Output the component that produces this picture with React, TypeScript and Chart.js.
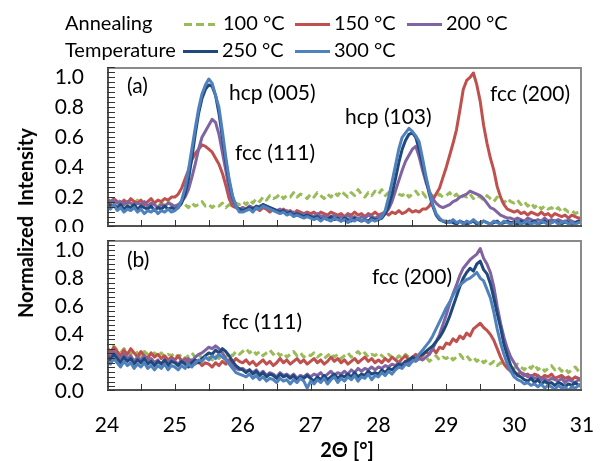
import React, { useEffect, useRef } from "react";
import { Chart, registerables } from "chart.js";

Chart.register(...registerables);

const FONT = "Lato, 'Open Sans', sans-serif";

// 2θ sampling grid [°]
const twoTheta = [
  24, 24.05, 24.1, 24.15, 24.2, 24.25, 24.3, 24.35, 24.4, 24.45, 24.5, 24.55, 24.6, 24.65, 24.7, 24.75, 24.8, 24.85, 24.9, 24.95,
  25, 25.05, 25.1, 25.15, 25.2, 25.25, 25.3, 25.35, 25.4, 25.45, 25.5, 25.55, 25.6, 25.65, 25.7, 25.75, 25.8, 25.85, 25.9, 25.95,
  26, 26.05, 26.1, 26.15, 26.2, 26.25, 26.3, 26.35, 26.4, 26.45, 26.5, 26.55, 26.6, 26.65, 26.7, 26.75, 26.8, 26.85, 26.9, 26.95,
  27, 27.05, 27.1, 27.15, 27.2, 27.25, 27.3, 27.35, 27.4, 27.45, 27.5, 27.55, 27.6, 27.65, 27.7, 27.75, 27.8, 27.85, 27.9, 27.95,
  28, 28.05, 28.1, 28.15, 28.2, 28.25, 28.3, 28.35, 28.4, 28.45, 28.5, 28.55, 28.6, 28.65, 28.7, 28.75, 28.8, 28.85, 28.9, 28.95,
  29, 29.05, 29.1, 29.15, 29.2, 29.25, 29.3, 29.35, 29.4, 29.45, 29.5, 29.55, 29.6, 29.65, 29.7, 29.75, 29.8, 29.85, 29.9, 29.95,
  30, 30.05, 30.1, 30.15, 30.2, 30.25, 30.3, 30.35, 30.4, 30.45, 30.5, 30.55, 30.6, 30.65, 30.7, 30.75, 30.8, 30.85, 30.9, 30.95,
  31,
];

// Panel (a)
const a100 = [
  0.18, 0.17, 0.19, 0.16, 0.18, 0.17, 0.15, 0.17, 0.16, 0.18, 0.15, 0.16, 0.17, 0.15, 0.16, 0.14, 0.16, 0.15, 0.17, 0.15,
  0.16, 0.14, 0.16, 0.15, 0.13, 0.16, 0.14, 0.15, 0.17, 0.14, 0.15, 0.13, 0.15, 0.14, 0.16, 0.13, 0.15, 0.14, 0.16, 0.15,
  0.17, 0.15, 0.18, 0.16, 0.19, 0.17, 0.2, 0.18, 0.21, 0.19, 0.2, 0.22, 0.19, 0.21, 0.2, 0.23, 0.2, 0.22, 0.21, 0.19,
  0.22, 0.2, 0.23, 0.21, 0.19, 0.22, 0.2, 0.23, 0.21, 0.24, 0.22, 0.2, 0.23, 0.21, 0.25, 0.22, 0.2, 0.23, 0.21, 0.24,
  0.22, 0.25, 0.21, 0.23, 0.2, 0.24, 0.22, 0.21, 0.23, 0.2, 0.22, 0.24, 0.21, 0.23, 0.2, 0.22, 0.21, 0.19, 0.22, 0.2,
  0.21, 0.23, 0.2, 0.22, 0.19, 0.21, 0.2, 0.22, 0.19, 0.21, 0.2, 0.18, 0.21, 0.19, 0.17, 0.2, 0.18, 0.16, 0.19, 0.17,
  0.16, 0.18, 0.15, 0.17, 0.14, 0.16, 0.13, 0.15, 0.12, 0.14, 0.12, 0.13, 0.11, 0.13, 0.1, 0.12, 0.1, 0.11, 0.09, 0.1,
  0.08,
];
const a150 = [
  0.18, 0.16, 0.19, 0.17, 0.15, 0.18, 0.16, 0.19, 0.17, 0.16, 0.18, 0.15, 0.17, 0.19, 0.16, 0.18, 0.17, 0.19, 0.18, 0.2,
  0.2, 0.22, 0.26, 0.32, 0.38, 0.45, 0.49, 0.52, 0.55, 0.54, 0.52, 0.5, 0.46, 0.42, 0.36, 0.28, 0.19, 0.14, 0.13, 0.12,
  0.13, 0.12, 0.14, 0.12, 0.13, 0.11, 0.13, 0.12, 0.1, 0.12, 0.11, 0.1, 0.12, 0.1, 0.11, 0.09, 0.11, 0.1, 0.09, 0.1,
  0.09, 0.1, 0.08, 0.1, 0.09, 0.08, 0.1, 0.09, 0.08, 0.09, 0.07, 0.09, 0.08, 0.1, 0.08, 0.09, 0.07, 0.09, 0.08, 0.1,
  0.08, 0.09, 0.1, 0.08, 0.1, 0.09, 0.11, 0.09, 0.1, 0.12, 0.1, 0.11, 0.1, 0.12, 0.12, 0.14, 0.18, 0.22, 0.26, 0.33,
  0.4, 0.48, 0.56, 0.65, 0.78, 0.92, 0.98, 1.0, 1.03, 0.95, 0.84, 0.68, 0.56, 0.46, 0.38, 0.27, 0.2, 0.15, 0.12, 0.11,
  0.1, 0.11, 0.09, 0.1, 0.08, 0.1, 0.09, 0.08, 0.1, 0.08, 0.09, 0.07, 0.09, 0.08, 0.07, 0.08, 0.06, 0.08, 0.07, 0.06,
  0.06,
];
const a200 = [
  0.19, 0.17, 0.18, 0.16, 0.17, 0.15, 0.17, 0.16, 0.14, 0.16, 0.15, 0.17, 0.14, 0.16, 0.15, 0.13, 0.15, 0.14, 0.16, 0.15,
  0.14, 0.15, 0.17, 0.2, 0.25, 0.33, 0.42, 0.52, 0.6, 0.64, 0.68, 0.72, 0.7, 0.62, 0.5, 0.38, 0.25, 0.17, 0.13, 0.12,
  0.13, 0.12, 0.14, 0.13, 0.12, 0.14, 0.15, 0.14, 0.13, 0.12, 0.11, 0.12, 0.1, 0.11, 0.09, 0.1, 0.09, 0.08, 0.09, 0.08,
  0.08, 0.07, 0.09, 0.07, 0.08, 0.06, 0.07, 0.08, 0.06, 0.07, 0.06, 0.08, 0.06, 0.07, 0.05, 0.07, 0.06, 0.08, 0.07, 0.06,
  0.07, 0.08, 0.09, 0.12, 0.17, 0.24, 0.31, 0.38, 0.44, 0.48, 0.52, 0.54, 0.47, 0.38, 0.3, 0.24, 0.19, 0.16, 0.14, 0.13,
  0.14, 0.15, 0.17, 0.18, 0.2, 0.21, 0.22, 0.24, 0.23, 0.22, 0.21, 0.19, 0.16, 0.13, 0.12, 0.1, 0.08, 0.07, 0.06, 0.06,
  0.05, 0.06, 0.05, 0.04, 0.06, 0.05, 0.04, 0.05, 0.04, 0.06, 0.04, 0.05, 0.04, 0.05, 0.04, 0.03, 0.05, 0.04, 0.03, 0.04,
  0.04,
];
const a250 = [
  0.16, 0.14, 0.15, 0.13, 0.15, 0.12, 0.14, 0.13, 0.15, 0.12, 0.14, 0.13, 0.12, 0.14, 0.11, 0.13, 0.12, 0.14, 0.12, 0.13,
  0.12, 0.13, 0.16, 0.22, 0.32, 0.46, 0.62, 0.76, 0.86, 0.92, 0.95, 0.94, 0.88, 0.76, 0.6, 0.44, 0.3, 0.2, 0.14, 0.12,
  0.11, 0.12, 0.13, 0.12, 0.14, 0.13, 0.15, 0.14, 0.13, 0.12, 0.11, 0.1, 0.11, 0.09, 0.1, 0.08, 0.09, 0.08, 0.07, 0.08,
  0.07, 0.06, 0.07, 0.05, 0.06, 0.05, 0.07, 0.05, 0.06, 0.04, 0.06, 0.05, 0.04, 0.06, 0.05, 0.04, 0.05, 0.04, 0.06, 0.05,
  0.05, 0.06, 0.09, 0.14, 0.22, 0.32, 0.43, 0.52, 0.58, 0.62, 0.63, 0.6, 0.52, 0.42, 0.32, 0.22, 0.14, 0.08, 0.05, 0.04,
  0.03, 0.04, 0.03, 0.02, 0.04, 0.03, 0.02, 0.03, 0.04, 0.02, 0.03, 0.04, 0.03, 0.02, 0.03, 0.04, 0.02, 0.03, 0.04, 0.03,
  0.03, 0.02, 0.04, 0.03, 0.02, 0.03, 0.04, 0.02, 0.03, 0.04, 0.02, 0.03, 0.04, 0.03, 0.02, 0.04, 0.03, 0.02, 0.03, 0.04,
  0.03,
];
const a300 = [
  0.14, 0.12, 0.15, 0.11, 0.13, 0.1, 0.12, 0.11, 0.13, 0.1, 0.12, 0.09, 0.11, 0.1, 0.12, 0.09, 0.11, 0.1, 0.12, 0.1,
  0.11, 0.13, 0.18, 0.26, 0.38, 0.52, 0.66, 0.79, 0.89, 0.95, 0.99, 0.96, 0.88, 0.8, 0.64, 0.47, 0.32, 0.21, 0.14, 0.1,
  0.1, 0.11, 0.12, 0.1, 0.13, 0.12, 0.14, 0.13, 0.12, 0.11, 0.1, 0.09, 0.1, 0.08, 0.09, 0.07, 0.08, 0.07, 0.06, 0.07,
  0.06, 0.05, 0.06, 0.04, 0.06, 0.05, 0.04, 0.06, 0.05, 0.04, 0.05, 0.03, 0.05, 0.04, 0.06, 0.04, 0.05, 0.03, 0.05, 0.04,
  0.05, 0.07, 0.11, 0.2, 0.3, 0.41, 0.52, 0.6, 0.63, 0.66, 0.64, 0.61, 0.57, 0.46, 0.34, 0.24, 0.15, 0.09, 0.06, 0.04,
  0.04, 0.03, 0.05, 0.03, 0.04, 0.02, 0.04, 0.03, 0.05, 0.03, 0.02, 0.04, 0.03, 0.02, 0.04, 0.03, 0.02, 0.04, 0.03, 0.02,
  0.03, 0.04, 0.02, 0.03, 0.04, 0.02, 0.03, 0.02, 0.04, 0.03, 0.02, 0.03, 0.04, 0.02, 0.03, 0.04, 0.02, 0.03, 0.02, 0.03,
  0.03,
];

// Panel (b)
const b100 = [
  0.31, 0.28, 0.32, 0.29, 0.27, 0.3, 0.28, 0.26, 0.29, 0.27, 0.25, 0.28, 0.26, 0.24, 0.27, 0.25, 0.27, 0.24, 0.26, 0.25,
  0.27, 0.24, 0.26, 0.23, 0.25, 0.27, 0.24, 0.26, 0.23, 0.25, 0.24, 0.22, 0.25, 0.23, 0.26, 0.24, 0.27, 0.25, 0.28, 0.26,
  0.28, 0.3, 0.27, 0.29, 0.26, 0.28, 0.25, 0.27, 0.29, 0.26, 0.28, 0.25, 0.27, 0.24, 0.26, 0.28, 0.25, 0.27, 0.24, 0.26,
  0.25, 0.27, 0.24, 0.26, 0.23, 0.25, 0.27, 0.24, 0.26, 0.23, 0.25, 0.27, 0.24, 0.26, 0.28, 0.25, 0.27, 0.24, 0.26, 0.25,
  0.27, 0.25, 0.23, 0.26, 0.24, 0.22, 0.25, 0.23, 0.26, 0.24, 0.21, 0.23, 0.25, 0.22, 0.24, 0.21, 0.23, 0.25, 0.22, 0.24,
  0.23, 0.25, 0.22, 0.24, 0.26, 0.23, 0.25, 0.22, 0.24, 0.21, 0.23, 0.2, 0.22, 0.19, 0.21, 0.18, 0.2, 0.17, 0.19, 0.18,
  0.16, 0.19, 0.17, 0.15, 0.18, 0.16, 0.19, 0.15, 0.17, 0.14, 0.16, 0.18, 0.15, 0.17, 0.14, 0.16, 0.13, 0.15, 0.17, 0.14,
  0.15,
];
const b150 = [
  0.3, 0.27, 0.31, 0.28, 0.25, 0.29, 0.26, 0.3, 0.27, 0.24, 0.28, 0.25, 0.23, 0.27, 0.24, 0.26, 0.23, 0.25, 0.22, 0.24,
  0.22, 0.25, 0.21, 0.23, 0.2, 0.22, 0.19, 0.21, 0.18, 0.2, 0.19, 0.17, 0.2, 0.18, 0.21, 0.19, 0.22, 0.2, 0.23, 0.21,
  0.2, 0.22, 0.19, 0.21, 0.18, 0.2, 0.22, 0.19, 0.21, 0.18, 0.2, 0.23, 0.2, 0.22, 0.19, 0.21, 0.23, 0.2, 0.22, 0.19,
  0.21, 0.23, 0.2, 0.22, 0.19, 0.21, 0.24, 0.21, 0.23, 0.2, 0.22, 0.19, 0.21, 0.23, 0.2, 0.22, 0.24, 0.21, 0.23, 0.2,
  0.22, 0.2, 0.23, 0.21, 0.24, 0.22, 0.2, 0.23, 0.25, 0.22, 0.24, 0.26, 0.23, 0.25, 0.28, 0.26, 0.3, 0.27, 0.31, 0.3,
  0.34, 0.33, 0.37, 0.35, 0.39, 0.37, 0.41, 0.39, 0.44, 0.46, 0.48, 0.45, 0.43, 0.4, 0.36, 0.3, 0.24, 0.19, 0.16, 0.14,
  0.13, 0.12, 0.13, 0.11, 0.12, 0.1, 0.12, 0.11, 0.09, 0.11, 0.1, 0.12, 0.09, 0.1, 0.11, 0.09, 0.1, 0.08, 0.1, 0.09,
  0.08,
];
const b200 = [
  0.27, 0.24, 0.28, 0.25, 0.22, 0.26, 0.23, 0.25, 0.21, 0.24, 0.22, 0.25, 0.21, 0.23, 0.2, 0.22, 0.19, 0.22, 0.2, 0.23,
  0.21, 0.19, 0.22, 0.2, 0.23, 0.21, 0.24, 0.26, 0.27, 0.29, 0.31, 0.3, 0.32, 0.3, 0.27, 0.23, 0.2, 0.18, 0.16, 0.15,
  0.16, 0.14, 0.15, 0.13, 0.15, 0.12, 0.14, 0.11, 0.13, 0.12, 0.1, 0.13, 0.11, 0.12, 0.1, 0.12, 0.09, 0.11, 0.1, 0.12,
  0.1, 0.12, 0.11, 0.13, 0.1, 0.12, 0.14, 0.11, 0.13, 0.12, 0.14, 0.12, 0.15, 0.13, 0.16, 0.14, 0.16, 0.15, 0.17, 0.15,
  0.17, 0.16, 0.18, 0.17, 0.19, 0.18, 0.2, 0.19, 0.21, 0.2, 0.22, 0.21, 0.23, 0.22, 0.24, 0.26, 0.3, 0.35, 0.4, 0.47,
  0.54, 0.62, 0.69, 0.75, 0.82, 0.87, 0.9, 0.93, 0.95, 0.97, 1.01, 0.94, 0.9, 0.84, 0.74, 0.6, 0.48, 0.38, 0.3, 0.24,
  0.2, 0.16, 0.13, 0.12, 0.1, 0.11, 0.09, 0.1, 0.08, 0.09, 0.07, 0.09, 0.08, 0.07, 0.09, 0.06, 0.08, 0.07, 0.06, 0.08,
  0.07,
];
const b250 = [
  0.25, 0.22, 0.26, 0.23, 0.2, 0.24, 0.21, 0.23, 0.19, 0.22, 0.2, 0.23, 0.19, 0.21, 0.18, 0.21, 0.19, 0.22, 0.18, 0.21,
  0.2, 0.18, 0.21, 0.19, 0.17, 0.2, 0.22, 0.2, 0.23, 0.25, 0.27, 0.26, 0.29, 0.27, 0.3, 0.28, 0.25, 0.21, 0.18, 0.16,
  0.15, 0.13, 0.15, 0.12, 0.14, 0.11, 0.13, 0.1, 0.12, 0.11, 0.09, 0.12, 0.1, 0.11, 0.09, 0.11, 0.08, 0.1, 0.09, 0.11,
  0.09, 0.07, 0.1, 0.08, 0.11, 0.08, 0.1, 0.12, 0.09, 0.11, 0.1, 0.12, 0.1, 0.13, 0.1, 0.12, 0.11, 0.14, 0.12, 0.13,
  0.12, 0.15, 0.13, 0.16, 0.15, 0.17, 0.19, 0.18, 0.21, 0.22, 0.24, 0.23, 0.25, 0.26, 0.28, 0.3, 0.32, 0.35, 0.38, 0.42,
  0.47, 0.53, 0.6, 0.67, 0.74, 0.8, 0.84, 0.87, 0.85, 0.9, 0.92, 0.86, 0.83, 0.76, 0.66, 0.55, 0.45, 0.33, 0.25, 0.18,
  0.14, 0.11, 0.1, 0.08, 0.07, 0.09, 0.06, 0.08, 0.05, 0.07, 0.05, 0.06, 0.04, 0.06, 0.05, 0.03, 0.05, 0.04, 0.06, 0.04,
  0.05,
];
const b300 = [
  0.22, 0.19, 0.23, 0.2, 0.17, 0.21, 0.18, 0.2, 0.16, 0.19, 0.17, 0.2, 0.16, 0.18, 0.15, 0.18, 0.16, 0.19, 0.15, 0.18,
  0.17, 0.15, 0.18, 0.16, 0.19, 0.17, 0.2, 0.22, 0.21, 0.24, 0.22, 0.25, 0.23, 0.26, 0.24, 0.22, 0.19, 0.16, 0.13, 0.12,
  0.11, 0.1, 0.12, 0.09, 0.11, 0.08, 0.1, 0.07, 0.09, 0.08, 0.06, 0.09, 0.07, 0.08, 0.05, 0.08, 0.06, 0.09, 0.07, 0.02,
  0.07, 0.05, 0.08, 0.06, 0.09, 0.05, 0.08, 0.1, 0.06, 0.09, 0.07, 0.1, 0.08, 0.11, 0.07, 0.1, 0.09, 0.12, 0.08, 0.11,
  0.1, 0.13, 0.11, 0.14, 0.12, 0.15, 0.17, 0.16, 0.19, 0.18, 0.21, 0.22, 0.26, 0.29, 0.32, 0.35, 0.39, 0.44, 0.49, 0.54,
  0.59, 0.63, 0.68, 0.72, 0.75, 0.77, 0.79, 0.8, 0.82, 0.84, 0.8, 0.78, 0.72, 0.66, 0.56, 0.44, 0.34, 0.26, 0.19, 0.14,
  0.1, 0.08, 0.07, 0.05, 0.06, 0.04, 0.05, 0.03, 0.05, 0.02, 0.04, 0.03, 0.01, 0.04, 0.02, 0.03, 0.0, 0.03, 0.02, 0.04,
  0.03,
];

const tempLabels = ["100 °C", "150 °C", "200 °C", "250 °C", "300 °C"];
const seriesColors = ["#9BBB59", "#C0504D", "#8064A2", "#1F497D", "#4F81BD"];
const yTicks = [0, 0.2, 0.4, 0.6, 0.8, 1.0];
const xTicks = [24, 25, 26, 27, 28, 29, 30, 31];
const X_MIN = 24;
const X_MAX = 31;
const Y_MAX = 1.07;
const Y_MINOR = 1 / 30;
const X_MINOR = 0.5;

// page-pixel plot boxes of the two panels (must match layout padding below)
const PLOT_LEFT = 107;
const PLOT_RIGHT = 582;
const panelBoxes = [
  { top: 67, bottom: 227 },
  { top: 240, bottom: 391 },
];

// text placement (canvas pixels)
const annA = [
  { text: "(a)", x: 127, y: 86 },
  { text: "hcp (005)", x: 229, y: 93 },
  { text: "fcc (111)", x: 235, y: 153 },
  { text: "hcp (103)", x: 345, y: 117 },
  { text: "fcc (200)", x: 490, y: 94 },
];
const annB = [
  { text: "(b)", x: 127, y: 28 },
  { text: "fcc (111)", x: 222, y: 90 },
  { text: "fcc (200)", x: 372, y: 45 },
];
const legendTitle = [
  { text: "Annealing", x: 65, y: 24 },
  { text: "Temperature", x: 65, y: 51 },
];
const legendItems = [
  { x0: 184, x1: 215, tx: 223, y: 24 },
  { x0: 295, x1: 330, tx: 334, y: 24 },
  { x0: 407, x1: 442, tx: 446, y: 24 },
  { x0: 183, x1: 218, tx: 222, y: 51 },
  { x0: 295, x1: 330, tx: 334, y: 51 },
];

function panelPlugin(items: { text: string; x: number; y: number }[], withLegend: boolean) {
  return {
    id: "panelDecor",
    afterDraw(chart: any) {
      const ctx = chart.ctx;
      ctx.save();
      ctx.fillStyle = "#000";
      ctx.textBaseline = "middle";
      ctx.textAlign = "left";
      ctx.font = `21px ${FONT}`;
      items.forEach((t) => ctx.fillText(t.text, t.x, t.y));
      if (withLegend) {
        ctx.font = `20px ${FONT}`;
        legendTitle.forEach((t) => ctx.fillText(t.text, t.x, t.y));
        legendItems.forEach((it, i) => {
          ctx.save();
          ctx.strokeStyle = seriesColors[i];
          ctx.lineWidth = 3;
          ctx.setLineDash(i === 0 ? [8, 4] : []);
          ctx.beginPath();
          ctx.moveTo(it.x0, it.y + 0.5);
          ctx.lineTo(it.x1, it.y + 0.5);
          ctx.stroke();
          ctx.restore();
          ctx.fillText(tempLabels[i], it.tx, it.y);
        });
      }
      ctx.restore();
    },
  };
}

function makeConfig(panel: "a" | "b"): any {
  const isA = panel === "a";
  const series = isA ? [a100, a150, a200, a250, a300] : [b100, b150, b200, b250, b300];
  return {
    type: "line",
    data: {
      datasets: series.map((ys, i) => ({
        label: tempLabels[i],
        data: twoTheta.map((x, j) => ({ x, y: ys[j] })),
        borderColor: seriesColors[i],
        backgroundColor: seriesColors[i],
        borderWidth: 3,
        borderDash: i === 0 ? [7, 4] : [],
        borderJoinStyle: "round",
        pointRadius: 0,
        tension: 0,
        fill: false,
        order: 4 - i,
      })),
    },
    options: {
      animation: false,
      responsive: true,
      maintainAspectRatio: false,
      events: [],
      layout: {
        padding: isA
          ? { top: 67, right: 20, bottom: 5, left: 0 }
          : { top: 8, right: 20, bottom: 0, left: 0 },
      },
      plugins: { legend: { display: false }, tooltip: { enabled: false } },
      scales: {
        x: {
          type: "linear",
          display: !isA,
          min: X_MIN,
          max: X_MAX,
          afterBuildTicks: (s: any) => {
            s.ticks = xTicks.map((v) => ({ value: v }));
          },
          ticks: {
            font: { family: FONT, size: 21 },
            color: "#000",
            padding: 22,
            maxRotation: 0,
            autoSkip: false,
            callback: (v: any) => String(v),
          },
          grid: { display: false, drawTicks: false },
          border: { display: false },
          afterFit: (s: any) => {
            s.height = isA ? 0 : 70;
            s.paddingLeft = 0;
            s.paddingRight = 0;
          },
        },
        y: {
          type: "linear",
          min: 0,
          max: Y_MAX,
          afterBuildTicks: (s: any) => {
            s.ticks = yTicks.map((v) => ({ value: v }));
          },
          ticks: {
            font: { family: FONT, size: 21 },
            color: "#000",
            padding: 23,
            callback: (v: any) => Number(v).toFixed(1),
          },
          grid: { display: false, drawTicks: false },
          border: { display: false },
          afterFit: (s: any) => {
            s.width = 107;
            s.paddingTop = 0;
            s.paddingBottom = 0;
          },
        },
      },
    },
    plugins: [panelPlugin(isA ? annA : annB, isA)],
  };
}

function PanelFrame({ top, bottom }: { top: number; bottom: number }) {
  const w = PLOT_RIGHT - PLOT_LEFT;
  const h = bottom - top;
  const marks: React.ReactNode[] = [];
  const box = (key: string, left: number, t: number, width: number, height: number, color: string) =>
    marks.push(
      <div key={key} style={{ position: "absolute", left, top: t, width, height, background: color, zIndex: 5 }} />
    );
  box("top", PLOT_LEFT, top, w, 2, "#8a8a8a");
  box("right", PLOT_RIGHT - 2, top, 2, h, "#8a8a8a");
  box("left", PLOT_LEFT, top, 2, h, "#505050");
  box("bottom", PLOT_LEFT, bottom - 2, w, 2, "#505050");
  for (let k = 0; k * Y_MINOR <= Y_MAX; k++) {
    const y = Math.round(bottom - ((k * Y_MINOR) / Y_MAX) * h);
    box("yt" + k, PLOT_LEFT, Math.min(y, bottom - 1), 8, 1, "#333");
  }
  for (let k = 1; X_MIN + k * X_MINOR < X_MAX; k++) {
    const x = Math.round(PLOT_LEFT + ((k * X_MINOR) / (X_MAX - X_MIN)) * w);
    box("xt" + k, x, bottom - 7, 1, 7, "#333");
  }
  return <>{marks}</>;
}

export default function App() {
  const topRef = useRef<HTMLCanvasElement>(null);
  const botRef = useRef<HTMLCanvasElement>(null);
  useEffect(() => {
    const c1 = new Chart(topRef.current as HTMLCanvasElement, makeConfig("a"));
    const c2 = new Chart(botRef.current as HTMLCanvasElement, makeConfig("b"));
    return () => {
      c1.destroy();
      c2.destroy();
    };
  }, []);
  return (
    <div style={{ position: "absolute", left: 0, top: 0, width: 602, height: 461, background: "#fff", overflow: "hidden" }}>
      <div style={{ position: "absolute", left: 0, top: 0, width: 602, height: 232 }}>
        <canvas ref={topRef} />
      </div>
      <div style={{ position: "absolute", left: 0, top: 232, width: 602, height: 229 }}>
        <canvas ref={botRef} />
      </div>
      {panelBoxes.map((b, i) => (
        <PanelFrame key={i} top={b.top} bottom={b.bottom} />
      ))}
      <div
        style={{
          position: "absolute",
          left: 25,
          top: 223,
          transform: "translate(-50%, -50%) rotate(-90deg)",
          font: `bold 20px ${FONT}`,
          lineHeight: "24px",
          whiteSpace: "pre",
          color: "#000",
        }}
      >
        {"Normalized  Intensity"}
      </div>
      <div
        style={{
          position: "absolute",
          left: 347,
          top: 449,
          transform: "translate(-50%, -50%)",
          font: `bold 20px ${FONT}`,
          lineHeight: "24px",
          whiteSpace: "pre",
          color: "#000",
        }}
      >
        {"2Θ [°]"}
      </div>
    </div>
  );
}
